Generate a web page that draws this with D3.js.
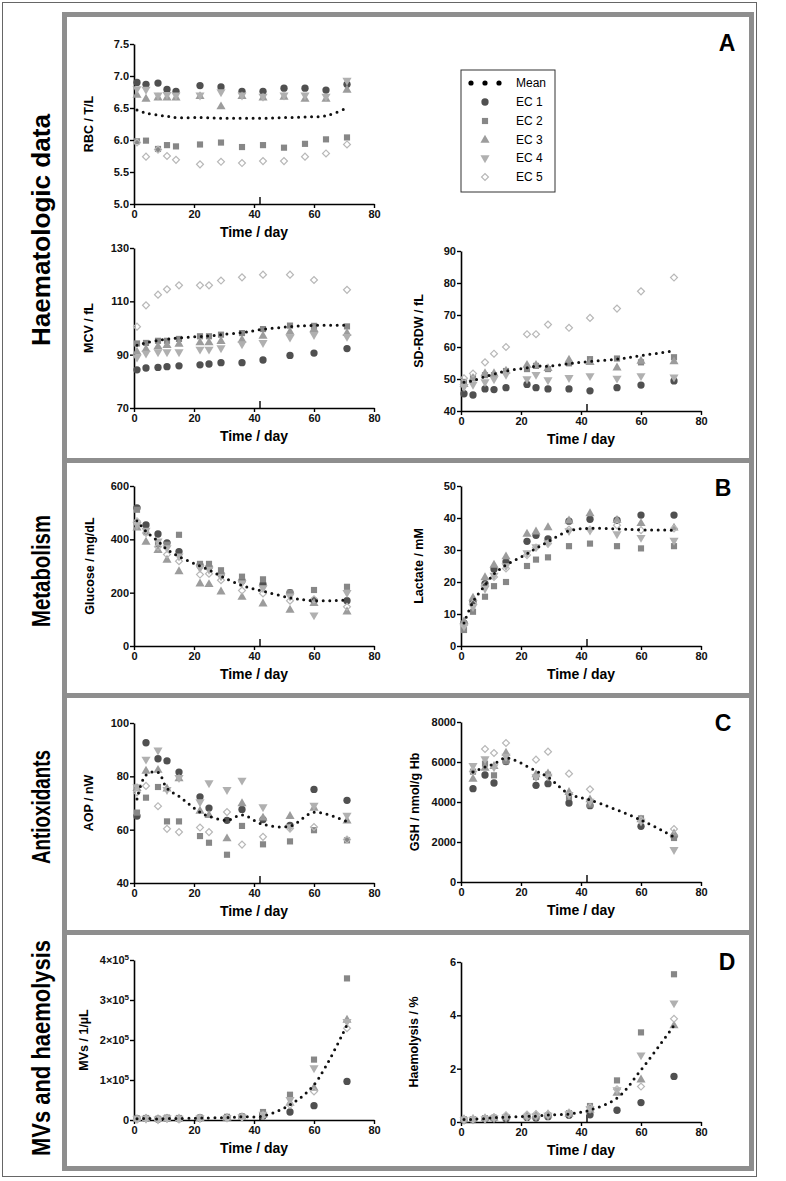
<!DOCTYPE html>
<html><head><meta charset="utf-8">
<script src="https://cdn.jsdelivr.net/npm/d3@7"></script>
<style>
body{margin:0;background:#fff;}
text{font-family:"Liberation Sans",Arial,Helvetica,sans-serif;}
</style></head>
<body>
<script>
// ---------------- DATA ----------------
const seriesNames = ["EC 1","EC 2","EC 3","EC 4","EC 5"];
const xTicks = [0,20,40,60,80];

const daysRBC = [1,4,8,11,14,22,29,36,43,50,57,64,71];
const rbcEC1 = [6.90,6.87,6.89,6.79,6.76,6.85,6.83,6.76,6.76,6.81,6.81,6.78,6.87];
const rbcEC2 = [5.98,5.99,5.86,5.92,5.90,5.93,5.96,5.89,5.92,5.88,5.94,6.01,6.04];
const rbcEC3 = [6.70,6.64,6.66,6.66,6.66,6.68,6.52,6.68,6.66,6.67,6.64,6.64,6.78];
const rbcEC4 = [6.80,6.79,6.70,6.71,6.70,6.70,6.75,6.70,6.68,6.70,6.70,6.68,6.93];
const rbcEC5 = [5.96,5.74,5.85,5.75,5.69,5.62,5.66,5.64,5.67,5.67,5.74,5.79,5.93];
const rbcMean = [6.47,6.42,6.39,6.37,6.35,6.35,6.34,6.34,6.34,6.35,6.36,6.38,6.50];
const rbcTicks = [5.0,5.5,6.0,6.5,7.0,7.5];

const daysStd = [1,4,8,11,15,22,25,29,36,43,52,60,71];
const mcvEC1 = [84.3,85.0,85.2,85.5,85.8,86.2,86.5,87.0,87.0,88.0,89.7,90.6,92.3];
const mcvEC2 = [94.2,94.4,95.2,95.2,95.9,96.9,96.9,97.5,98.1,99.6,100.9,100.8,100.6];
const mcvEC3 = [91.0,92.0,93.0,93.5,94.0,94.5,94.5,95.0,95.5,97.0,98.5,99.5,98.0];
const mcvEC4 = [89.0,90.5,91.0,91.0,91.0,92.0,92.0,92.5,94.0,94.5,96.5,97.5,96.8];
const mcvEC5 = [100.5,108.5,112.5,114.5,116.0,116.0,116.0,117.8,119.0,120.0,120.0,118.0,114.3];
const mcvMean = [93.5,94.5,95.3,95.8,96.3,96.8,97.0,97.5,98.3,99.5,100.5,101.0,101.0];
const mcvTicks = [70,90,110,130];

const rdwEC1 = [45.4,45.0,46.9,46.7,47.3,48.3,47.3,46.9,46.9,46.3,47.3,48.1,49.4];
const rdwEC2 = [49.1,50.2,51.2,51.2,52.5,53.1,54.1,53.1,54.9,56.2,56.4,55.2,56.8];
const rdwEC3 = [48.3,50.2,51.7,51.7,52.5,54.3,54.3,53.3,55.9,55.2,53.5,55.6,55.4];
const rdwEC4 = [47.6,48.3,49.1,50.0,51.4,50.0,51.4,49.7,50.4,51.0,50.2,51.0,50.6];
const rdwEC5 = [50.2,51.7,55.2,57.9,60.0,64.0,64.0,67.0,66.0,69.1,72.0,77.4,81.7];
const rdwMean = [49.0,49.5,50.8,51.5,52.5,53.5,54.0,54.0,54.8,55.5,56.2,57.3,58.8];
const rdwTicks = [40,50,60,70,80,90];

const gluEC1 = [518,454,420,387,354,302,296,269,245,231,200,170,170];
const gluEC2 = [511,427,382,380,417,308,308,284,260,250,200,210,222];
const gluEC3 = [443,390,359,322,279,233,231,203,183,158,135,160,128];
const gluEC4 = [455,434,393,368,337,293,287,262,237,218,187,116,200];
const gluEC5 = [468,424,372,343,318,268,271,247,208,197,170,175,147];
const gluMean = [470,430,393,362,335,300,285,262,227,206,181,170,172];
const gluTicks = [0,200,400,600];

const lacEC1 = [7.1,13.8,19.5,24.1,26.3,32.7,34.6,33.5,39.0,39.6,39.3,40.9,40.9];
const lacEC2 = [5.0,10.7,15.4,18.7,20.0,25.0,27.0,27.7,31.2,32.0,31.2,30.5,31.2];
const lacEC3 = [7.6,15.0,21.4,25.3,27.9,35.0,35.7,37.0,39.1,41.4,39.3,38.3,36.9];
const lacEC4 = [6.2,12.3,18.0,22.1,25.0,29.1,31.0,32.2,36.0,36.2,35.0,33.9,33.0];
const lacEC5 = [6.5,13.3,19.0,21.6,24.2,28.4,30.8,32.0,36.4,36.4,37.7,36.2,36.7];
const lacMean = [7.2,13.8,19.0,22.5,25.3,28.8,30.5,32.6,36.0,36.8,36.6,36.3,36.2];
const lacTicks = [0,10,20,30,40,50];

const daysAOP = [1,4,8,11,15,22,25,31,36,43,52,60,71];
const aopEC1 = [65.1,92.6,86.6,85.8,81.6,72.3,68.1,63.5,67.6,63.8,61.6,75.1,71.0];
const aopEC2 = [66.4,72.0,76.0,63.1,63.1,57.6,55.1,50.6,61.4,54.5,55.6,59.8,56.0];
const aopEC3 = [75.5,82.0,82.3,75.3,79.1,67.0,65.4,56.6,69.8,64.4,65.0,68.1,63.3];
const aopEC4 = [76.0,86.4,89.8,75.0,79.5,70.4,77.5,75.0,78.5,68.5,61.0,69.1,65.4];
const aopEC5 = [74.0,76.4,68.8,60.3,59.1,60.8,59.1,66.6,54.4,57.3,60.4,61.0,56.3];
const aopMean = [71.5,80.5,81.5,75.5,72.5,66.5,65.0,63.5,65.5,62.0,61.3,66.5,63.0];
const aopTicks = [40,60,80,100];

const daysGSH = [4,8,11,15,25,29,36,43,60,71];
const gshEC1 = [4667,5350,4950,6017,4833,4917,3950,3817,2783,2283];
const gshEC2 = [5517,5917,5333,6033,5250,5367,4250,3867,3183,2200];
const gshEC3 = [5150,5700,5783,6450,5367,5417,4483,4117,3117,2417];
const gshEC4 = [5817,6150,5750,6280,5250,5283,4367,4033,3033,1617];
const gshEC5 = [5530,6650,6450,6950,6117,6517,5417,4633,3083,2650];
const gshMean = [5500,5750,5900,6200,5550,5250,4400,4100,3100,2250];
const gshTicks = [0,2000,4000,6000,8000];

const daysMV = [1,4,8,11,15,22,31,36,43,52,60,71];
const mvEC1 = [3000,4000,2000,4000,3000,5000,6000,8000,10000,20000,35800,96500];
const mvEC2 = [4000,5000,3000,6000,5000,6000,8000,9000,20000,63200,151000,354000];
const mvEC3 = [2000,3000,2000,3000,3000,4000,5000,7000,12000,42400,80000,250000];
const mvEC4 = [3000,4000,2000,5000,4000,5000,6000,8000,14000,50700,130000,246000];
const mvEC5 = [2000,3000,1000,3000,2000,4000,5000,7000,11000,38000,71500,229500];
const mvMean = [3000,4000,2500,4000,3500,5000,6000,8000,10000,38000,88000,238000];
const mvTicks = [0,100000,200000,300000,400000];

const hemEC1 = [0.08,0.09,0.12,0.14,0.12,0.17,0.15,0.20,0.25,0.27,0.44,0.73,1.71];
const hemEC2 = [0.10,0.10,0.14,0.16,0.18,0.20,0.20,0.25,0.33,0.60,1.56,3.36,5.54];
const hemEC3 = [0.09,0.10,0.13,0.15,0.20,0.22,0.25,0.28,0.30,0.45,1.08,1.58,3.61];
const hemEC4 = [0.08,0.10,0.12,0.15,0.18,0.20,0.22,0.25,0.30,0.50,1.20,2.51,4.46];
const hemEC5 = [0.10,0.12,0.15,0.18,0.25,0.28,0.30,0.30,0.35,0.55,1.23,1.33,3.87];
const hemMean = [0.09,0.10,0.13,0.16,0.18,0.21,0.22,0.26,0.30,0.45,0.90,1.95,3.62];
const hemTicks = [0,2,4,6];

const sectionLabels = ["Haematologic data","Metabolism","Antioxidants","MVs and haemolysis"];
const panelLetters = ["A","B","C","D"];

// ---------------- LAYOUT ----------------
const W = 786, H = 1181;
const svg = d3.select("body").append("svg").attr("width", W).attr("height", H);

// outer thin frame
svg.append("rect").attr("x",2.5).attr("y",2.5).attr("width",754).attr("height",1174)
  .attr("fill","none").attr("stroke","#666").attr("stroke-width",1);

// gray panel frames
const gray = "#8e8e8e";
const frameL = 62, frameR = 754, barW = 5;
const hBars = [12, 458, 693, 930, 1166];
hBars.forEach(y => svg.append("rect").attr("x",frameL).attr("y",y).attr("width",frameR-frameL).attr("height",barW).attr("fill",gray));
svg.append("rect").attr("x",frameL).attr("y",hBars[0]).attr("width",barW).attr("height",hBars[4]+barW-hBars[0]).attr("fill",gray);
svg.append("rect").attr("x",frameR-barW).attr("y",hBars[0]).attr("width",barW).attr("height",hBars[4]+barW-hBars[0]).attr("fill",gray);

// section labels (condensed bold)
const secY = [230, 571, 807, 1048];
const secLen = [232, 112, 114, 216];
sectionLabels.forEach((s,i) => {
  svg.append("text").attr("transform",`translate(50,${secY[i]}) rotate(-90)`)
    .attr("text-anchor","middle")
    .attr("textLength", secLen[i]).attr("lengthAdjust","spacingAndGlyphs")
    .style("font-weight","bold").style("font-size","25px").text(s);
});

// panel letters
const letterPos = [[727,51],[723,496],[723,731],[727,970]];
panelLetters.forEach((l,i) => {
  svg.append("text").attr("x",letterPos[i][0]).attr("y",letterPos[i][1])
    .attr("text-anchor","middle").style("font-weight","bold").style("font-size","23px").text(l);
});

// ---------------- PLOTS ----------------
const symTypes = [d3.symbolCircle, d3.symbolSquare, d3.symbolTriangle, d3.symbolTriangle, d3.symbolSquare];
const symSizes = [42, 38, 36, 36, 24];
const symRot = [0, 0, 0, 180, 45];
const symFill = ["#505050", "#878787", "#9c9c9c", "#b0b0b0", "none"];
const symStroke = ["none","none","none","none","#b8b8b8"];

const plots = [
  {x0:134, top:44,  days:daysRBC, series:[rbcEC1,rbcEC2,rbcEC3,rbcEC4,rbcEC5], mean:rbcMean, dom:[5,7.5], ticks:rbcTicks, fmt:d3.format(".1f"), label:"RBC / T/L", lx:-41},
  {x0:134, top:248, days:daysStd, series:[mcvEC1,mcvEC2,mcvEC3,mcvEC4,mcvEC5], mean:mcvMean, dom:[70,130], ticks:mcvTicks, fmt:d3.format("d"), label:"MCV / fL", lx:-41},
  {x0:461, top:251, days:daysStd, series:[rdwEC1,rdwEC2,rdwEC3,rdwEC4,rdwEC5], mean:rdwMean, dom:[40,90], ticks:rdwTicks, fmt:d3.format("d"), label:"SD-RDW / fL", lx:-38},
  {x0:134, top:486, days:daysStd, series:[gluEC1,gluEC2,gluEC3,gluEC4,gluEC5], mean:gluMean, dom:[0,600], ticks:gluTicks, fmt:d3.format("d"), label:"Glucose / mg/dL", lx:-40},
  {x0:461, top:486, days:daysStd, series:[lacEC1,lacEC2,lacEC3,lacEC4,lacEC5], mean:lacMean, dom:[0,50], ticks:lacTicks, fmt:d3.format("d"), label:"Lactate / mM", lx:-38},
  {x0:134, top:723, days:daysAOP, series:[aopEC1,aopEC2,aopEC3,aopEC4,aopEC5], mean:aopMean, dom:[40,100], ticks:aopTicks, fmt:d3.format("d"), label:"AOP / nW", lx:-41},
  {x0:461, top:722, days:daysGSH, series:[gshEC1,gshEC2,gshEC3,gshEC4,gshEC5], mean:gshMean, dom:[0,8000], ticks:gshTicks, fmt:d3.format("d"), label:"GSH / nmol/g Hb", lx:-42},
  {x0:134, top:960, days:daysMV,  series:[mvEC1,mvEC2,mvEC3,mvEC4,mvEC5], mean:mvMean, dom:[0,400000], ticks:mvTicks, fmt:null, label:"MVs / 1/µL", lx:-46},
  {x0:461, top:962, days:daysStd, series:[hemEC1,hemEC2,hemEC3,hemEC4,hemEC5], mean:hemMean, dom:[0,6], ticks:hemTicks, fmt:d3.format("d"), label:"Haemolysis / %", lx:-43}
];

const PW = 240, PH = 160;

plots.forEach(p => {
  const g = svg.append("g").attr("transform",`translate(${p.x0},${p.top})`);
  const x = d3.scaleLinear().domain([0,80]).range([0,PW]);
  const y = d3.scaleLinear().domain(p.dom).range([PH,0]);

  const xa = g.append("g").attr("transform",`translate(0,${PH})`)
    .call(d3.axisBottom(x).tickValues(xTicks).tickSize(4).tickSizeOuter(0).tickPadding(2));
  const ya = g.append("g")
    .call(d3.axisLeft(y).tickValues(p.ticks).tickSize(4).tickSizeOuter(0).tickPadding(1)
      .tickFormat(p.fmt ? p.fmt : (d => "")));
  [xa,ya].forEach(a => {
    a.select(".domain").attr("stroke","#000").attr("stroke-width",1.6);
    a.selectAll(".tick line").attr("stroke","#000").attr("stroke-width",1.4);
    a.selectAll("text").style("font-weight","bold").style("font-size","11px").attr("fill","#111");
  });
  if (!p.fmt) {
    ya.selectAll(".tick text").each(function(d){
      const t = d3.select(this);
      if (d === 0) { t.text("0"); return; }
      t.text(null);
      t.append("tspan").text((d/100000) + "×10");
      t.append("tspan").attr("dy","-0.45em").style("font-size","8px").text("5");
    });
  }

  // day-42 marker
  g.append("line").attr("x1",x(42)).attr("x2",x(42)).attr("y1",PH).attr("y2",PH-7)
    .attr("stroke","#000").attr("stroke-width",1.4);

  // axis labels
  g.append("text").attr("x",PW/2).attr("y",PH+33).attr("text-anchor","middle")
    .style("font-weight","bold").style("font-size","14px").text("Time / day");
  g.append("text").attr("transform",`translate(${p.lx},${PH/2}) rotate(-90)`)
    .attr("text-anchor","middle").style("font-weight","bold").style("font-size","12.5px").text(p.label);

  // points
  p.series.forEach((vals,si) => {
    const sym = d3.symbol().type(symTypes[si]).size(symSizes[si]);
    g.append("g").selectAll("path").data(vals).join("path")
      .attr("d", sym)
      .attr("transform",(v,i)=>`translate(${x(p.days[i])},${y(v)}) rotate(${symRot[si]})`)
      .attr("fill",symFill[si]).attr("stroke",symStroke[si]).attr("stroke-width",1.2);
  });

  // mean dotted line
  const line = d3.line().x((v,i)=>x(p.days[i])).y(v=>y(v)).curve(d3.curveCatmullRom.alpha(0.5));
  g.append("path").attr("d", line(p.mean)).attr("fill","none").attr("stroke","#111")
    .attr("stroke-width",3).attr("stroke-dasharray","0 6.5").attr("stroke-linecap","round");
});

// ---------------- LEGEND ----------------
const leg = svg.append("g");
leg.append("rect").attr("x",461).attr("y",70).attr("width",94).attr("height",122)
  .attr("fill","#fff").attr("stroke","#333").attr("stroke-width",1);
const legY = [83,102,121,140,158,177];
[471,485,499].forEach(cx => leg.append("circle").attr("cx",cx).attr("cy",legY[0]).attr("r",2.6).attr("fill","#000"));
leg.append("text").attr("x",516).attr("y",legY[0]+4).style("font-size","12px").text("Mean");
seriesNames.forEach((s,si) => {
  const sym = d3.symbol().type(symTypes[si]).size(symSizes[si]);
  leg.append("path").attr("d",sym).attr("transform",`translate(485,${legY[si+1]}) rotate(${symRot[si]})`)
    .attr("fill",symFill[si]).attr("stroke",symStroke[si]).attr("stroke-width",1.2);
  leg.append("text").attr("x",516).attr("y",legY[si+1]+4).style("font-size","12px").text(s);
});
</script>
</body></html>
